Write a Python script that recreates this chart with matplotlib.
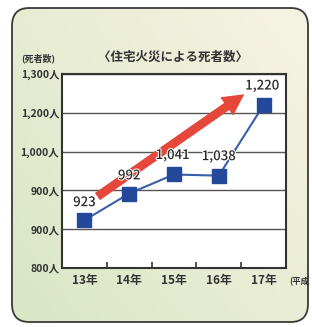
import numpy as np
import matplotlib
matplotlib.use("Agg")
from matplotlib import pyplot as plt
from matplotlib.patches import FancyBboxPatch
import matplotlib.patheffects as pe

plt.rcParams['font.family'] = ['Noto Sans CJK JP', 'DejaVu Sans']

years = ["13年", "14年", "15年", "16年", "17年"]
deaths = [923, 992, 1041, 1038, 1220]
death_labels = ["923", "992", "1,041", "1,038", "1,220"]
y_ticks = [800, 900, 1000, 1100, 1200, 1300]
y_tick_labels = ["800人", "900人", "900人", "1,000人", "1,200人", "1,300人"]

fig = plt.figure(figsize=(3.12, 3.27), dpi=100)
fig.patch.set_facecolor("white")

# rounded panel with a soft cream-to-green wash
box = (12 / 312, 5 / 327, 296 / 312, 314 / 327)
panel = FancyBboxPatch(box[:2], box[2], box[3],
                       boxstyle="round,pad=0,rounding_size=0.055",
                       transform=fig.transFigure, facecolor="none",
                       edgecolor="#3a3a3a", lw=1.3, zorder=2)
bg = fig.add_axes([0, 0, 1, 1], zorder=-1)
bg.set_axis_off()
gx, gy = np.meshgrid(np.linspace(0, 1, 60), np.linspace(0, 1, 60))
wash = np.clip(0.6 * (1 - gx) + 0.5 * (1 - gy) - 0.1, 0, 1)
cream = np.array([0.96, 0.95, 0.88])
green = np.array([0.85, 0.90, 0.77])
img = cream * (1 - wash[..., None]) + green * wash[..., None]
im = bg.imshow(img, extent=[0, 1, 0, 1], aspect="auto", origin="lower")
bg.set_xlim(0, 1)
bg.set_ylim(0, 1)
clip = FancyBboxPatch(box[:2], box[2], box[3],
                      boxstyle="round,pad=0,rounding_size=0.055",
                      transform=fig.transFigure, facecolor="none")
im.set_clip_path(clip)
fig.patches.append(panel)

ax = fig.add_axes([62 / 312, 59 / 327, 224 / 312, 194 / 327])
ax.set_facecolor("white")
x = np.arange(len(years))

ax.plot(x, deaths, color="#3a5ea8", lw=1.5, zorder=3)
ax.plot(x, deaths, ls="none", marker="s", ms=9.5, color="#24489a", zorder=4)

ax.annotate("", xy=(3.62, 1252), xytext=(0.24, 980),
            arrowprops=dict(arrowstyle="simple,head_length=1.1,head_width=1.15,tail_width=0.45",
                            mutation_scale=14, color="#e5473a", lw=0),
            zorder=2)

offsets = [(0, 8), (0, 8), (-1, 9), (0, 9), (-1, 9)]
for xi, v, lab, off in zip(x, deaths, death_labels, offsets):
    ax.annotate(lab, (xi, v), xytext=off, textcoords="offset points",
                ha="center", va="bottom", fontsize=9.5, color="#2a2a2a", zorder=5,
                fontweight="medium",
                path_effects=[pe.withStroke(linewidth=1.5, foreground="white")])

ax.set_xlim(-0.5, 4.5)
ax.set_ylim(800, 1300)
ax.set_yticks(y_ticks)
ax.set_yticklabels(y_tick_labels, fontsize=7.5, color="#333333", fontweight="bold")
ax.tick_params(axis="y", length=0, pad=2)
ax.set_xticks(x)
ax.set_xticklabels(years, fontsize=8.5, color="#333333", fontweight="bold")
ax.tick_params(axis="x", which="major", length=0, pad=4)
ax.set_xticks([0.5, 1.5, 2.5, 3.5], minor=True)
ax.tick_params(axis="x", which="minor", direction="in", length=4, width=1.2, color="#333333")
ax.grid(axis="y", color="#555555", lw=1.0)
ax.set_axisbelow(True)
for s in ax.spines.values():
    s.set_color("#333333")
    s.set_linewidth(1.5)

fig.text(21 / 312, 1 - 58 / 327, "(死者数)", fontsize=6.5, color="#333333",
         fontweight="bold", ha="left", va="center")
fig.text(173 / 312, 1 - 57 / 327, "〈住宅火災による死者数〉", fontsize=9,
         color="#333333", fontweight="bold", ha="center", va="center")
fig.text(289 / 312, 1 - 282 / 327, "(平成", fontsize=6, color="#333333",
         fontweight="bold", ha="left", va="center")

fig.savefig("out.png", dpi=100)
